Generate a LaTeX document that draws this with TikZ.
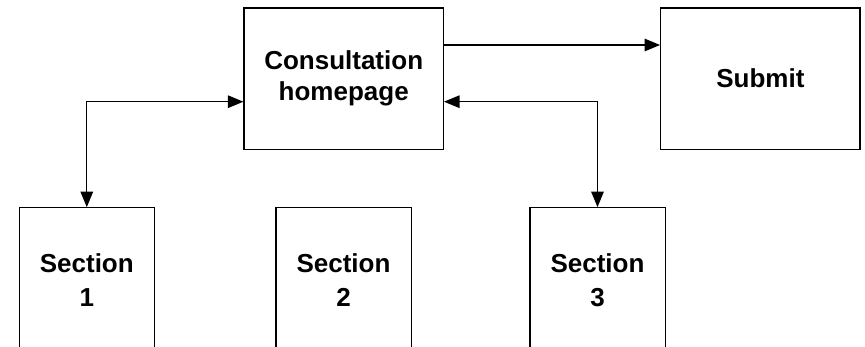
\documentclass[tikz,border=0pt]{standalone}
\usepackage{fontspec}
\setmainfont{Liberation Sans}
\usetikzlibrary{arrows.meta}
\begin{document}
\begin{tikzpicture}[x=1pt,y=-1pt,
  box/.style={draw, line width=1.3pt, inner sep=0pt, align=center,
    font=\bfseries\fontsize{26}{31}\selectfont},
  bigbox/.style={box, minimum width=199.3pt, minimum height=141.3pt},
  secbox/.style={box, minimum width=135.3pt, minimum height=144pt,
    font=\bfseries\fontsize{26}{34}\selectfont},
  tip/.tip={Triangle[length=15.5pt,width=12.5pt]},
  link/.style={line width=1.3pt, -tip},
  duplex/.style={line width=1.3pt, tip-tip},
]
\useasboundingbox (0,0) rectangle (865,347);
\clip (0,0) rectangle (865,347);

% top row
\node[bigbox] (home)   at (343.7,78.7) {Consultation\\homepage};
\node[bigbox] (submit) at (760.4,78.7) {Submit};

% section pages (run past the lower edge)
\node[secbox] (s1) at (86.8,279.8) {Section\\1};
\node[secbox] (s2) at (343.5,279.8) {Section\\2};
\node[secbox] (s3) at (597.5,279.8) {Section\\3};

% connectors
\draw[link] (home.east |- 0,45) -- (submit.west |- 0,45);
\draw[duplex] (home.west |- 0,101.7) -| (s1.north);
\draw[duplex] (home.east |- 0,101.7) -| (s3.north);
\end{tikzpicture}
\end{document}
